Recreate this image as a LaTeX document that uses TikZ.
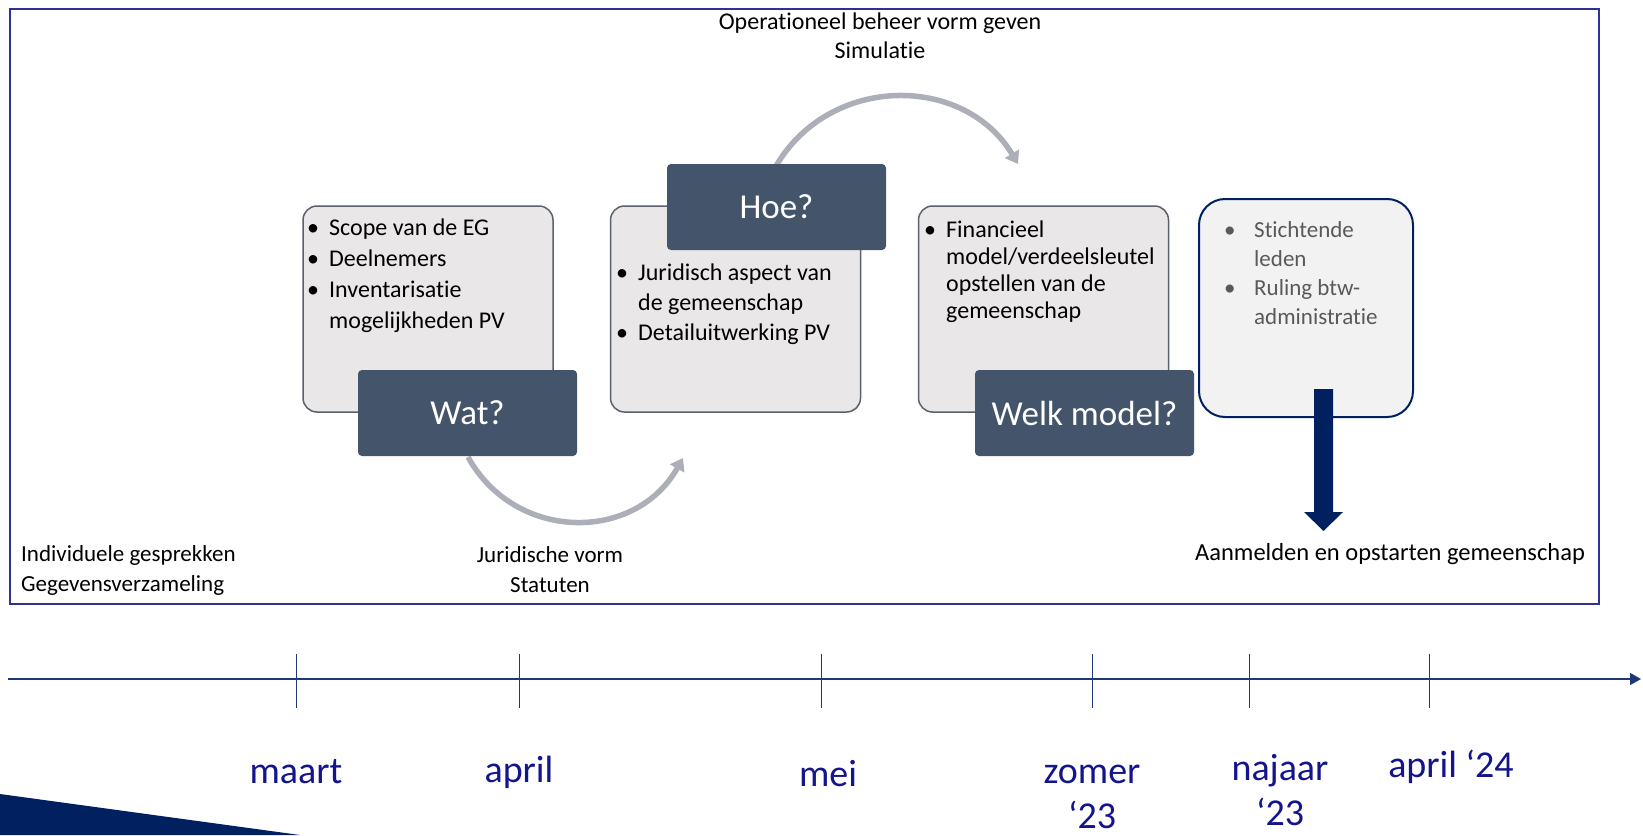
\documentclass[tikz,border=0pt]{standalone}
\usepackage{fontspec}
\setmainfont{Carlito}[Ligatures = NoCommon]
\usetikzlibrary{arrows.meta}

\definecolor{qblue}{RGB}{68,84,106}
\definecolor{boxgray}{RGB}{233,231,231}
\definecolor{boxedge}{RGB}{90,96,108}
\definecolor{navy}{RGB}{0,32,96}
\definecolor{framecol}{RGB}{46,49,150}
\definecolor{arcgray}{RGB}{172,175,183}
\definecolor{labblue}{RGB}{20,20,140}
\definecolor{linecol}{RGB}{31,56,120}
\definecolor{softgray}{RGB}{242,242,242}
\definecolor{txtgray}{RGB}{89,89,89}

\newcommand{\bul}[1]{\makebox[22pt][l]{\textbullet}#1}
\newcommand{\cont}[1]{\hspace*{22pt}#1}
\newcommand{\gbul}[1]{\makebox[30pt][l]{\textbullet}#1}
\newcommand{\gcont}[1]{\hspace*{30pt}#1}

\tikzset{
  infobox/.style = {draw = boxedge, line width = 1.5pt, fill = boxgray, rounded corners = 14pt,
                    minimum width = 250pt, minimum height = 206pt},
  qbox/.style = {fill = qblue, text = white, rounded corners = 4pt, minimum width = 219pt,
                 minimum height = 86pt, font = \fontsize{35}{42}\selectfont},
  boxtext/.style = {anchor = north west, inner sep = 0pt, align = left, font = \fontsize{24}{31}\selectfont},
  plaintext/.style = {inner sep = 0pt, align = center, font = \fontsize{23}{30}\selectfont},
  turn/.style = {draw = arcgray, line width = 5.5pt, -{Triangle[width = 16pt, length = 12pt]}},
  tick/.style = {draw = linecol, line width = 1pt},
  monthlab/.style = {text = labblue, align = center, inner sep = 0pt, font = \fontsize{38}{45}\selectfont}
}

\begin{document}
\begin{tikzpicture}[x = 1pt, y = -1pt]

  \useasboundingbox (0, 0) rectangle (1643, 835);

  % Frame
  \draw[framecol, line width = 2pt] (10, 9) rectangle (1599, 604);

  % Light boxes
  \node[infobox] (box1) at (428, 309) {};
  \node[infobox] (box2) at (735.5, 309) {};
  \node[infobox] (box3) at (1043.5, 309) {};
  \node[draw = navy, line width = 2pt, fill = softgray, rounded corners = 26pt,
        minimum width = 214pt, minimum height = 218pt] (box4) at (1306, 308) {};

  % Box texts
  \node[boxtext] (txt1) at (307, 219) {\bul{Scope van de EG}\\ \bul{Deelnemers}\\ \bul{Inventarisatie}\\ \cont{mogelijkheden PV}};
  \node[boxtext, font = \fontsize{24}{30}\selectfont] (txt2) at (616, 264) {\bul{Juridisch aspect van}\\ \cont{de gemeenschap}\\ \bul{Detailuitwerking PV}};
  \node[boxtext, font = \fontsize{24}{27}\selectfont] (txt3) at (924, 221) {\bul{Financieel}\\ \cont{model/verdeelsleutel}\\ \cont{opstellen van de}\\ \cont{gemeenschap}};
  \node[boxtext, text = txtgray, font = \fontsize{23}{29}\selectfont] (txt4) at (1224, 221) {\gbul{Stichtende}\\ \gcont{leden}\\ \gbul{Ruling btw-}\\ \gcont{administratie}};

  % Cycle arcs
  \coordinate (arcA) at (683, 458);
  \coordinate (arcB) at (1018, 164);
  \draw[turn] (468, 457) .. controls (515, 542) and (635, 543) .. (arcA);
  \draw[turn] (776, 166) .. controls (830, 74) and (964, 74) .. (arcB);

  % Question boxes
  \node[qbox] (wat) at (467.5, 413) {Wat?};
  \node[qbox] (hoe) at (776.5, 207) {Hoe?};
  \node[qbox] (welk) at (1084.5, 413) {Welk model?};

  % Block arrow
  \fill[navy] (1314, 389) -- (1333, 389) -- (1333, 512) -- (1343, 512) -- (1323.5, 531)
    -- (1304, 512) -- (1314, 512) -- cycle;

  % Loose texts
  \node[plaintext, font = \fontsize{24}{29}\selectfont] (ops) at (880, 36) {Operationeel beheer vorm geven\\Simulatie};
  \node[plaintext, anchor = west, align = left] (gespr) at (21, 570) {Individuele gesprekken\\Gegevensverzameling};
  \node[plaintext] (jur) at (550, 570) {Juridische vorm\\Statuten};
  \node[plaintext, font = \fontsize{24.5}{30}\selectfont] (aanm) at (1390, 554) {Aanmelden en opstarten gemeenschap};

  % Timeline
  \coordinate (tl0) at (8, 679);
  \coordinate (tl1) at (1641, 679);
  \draw[linecol, line width = 1.3pt, -{Triangle[width = 12pt, length = 11pt]}] (tl0) -- (tl1);
  \foreach \tx/\lx/\ly/\lab in {296/296/772/maart, 519/519/772/april, 821/828/774/mei,
      1092/1092/797/{zomer\\‘23}, 1249/1280/790/{najaar\\‘23}, 1429/1451/767/{april ‘24}} {
    \draw[tick] (\tx, 654) -- (\tx, 708);
    \node[monthlab] (m\tx) at (\lx, \ly) {\lab};
  }

  % Corner wedge
  \fill[navy] (0, 794) -- (300, 835) -- (0, 835) -- cycle;

\end{tikzpicture}
\end{document}
